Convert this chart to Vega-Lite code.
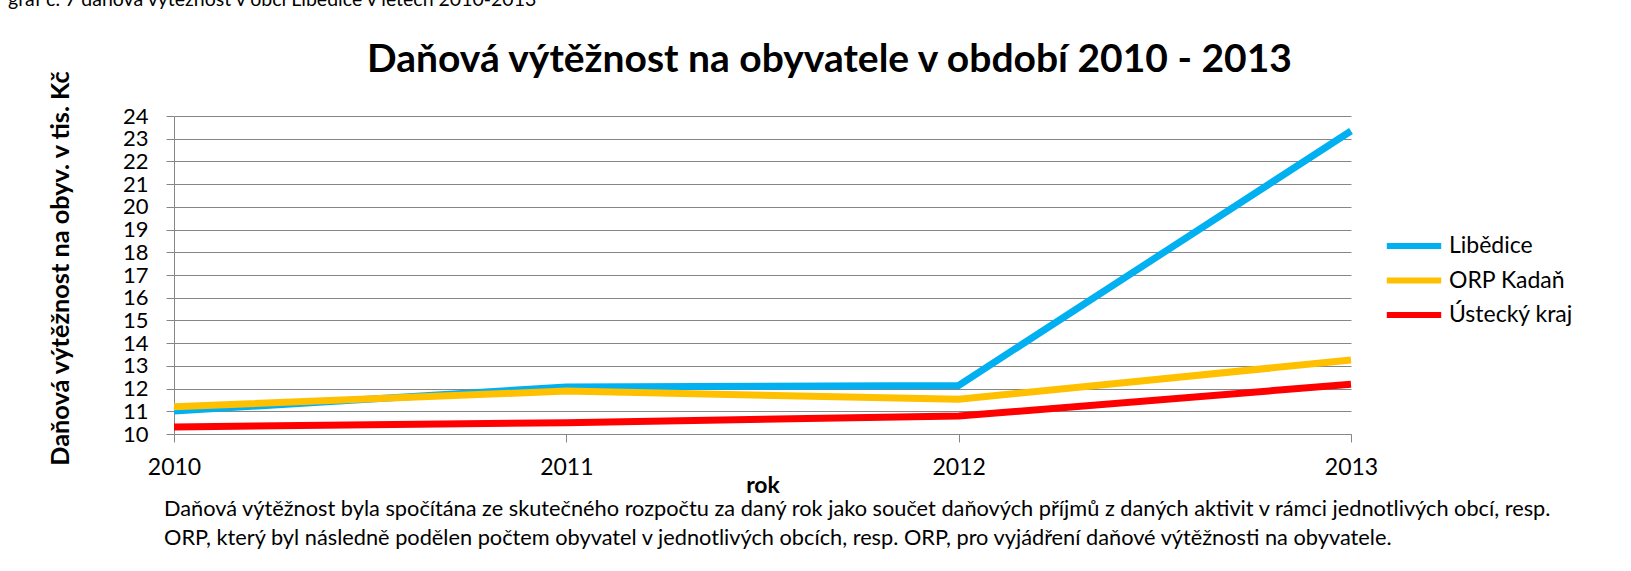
{
  "$schema": "https://vega.github.io/schema/vega-lite/v6.json",
  "padding": {"left": 8, "top": -10, "right": 0, "bottom": 0},
  "background": "white",
  "config": {"view": {"stroke": null}, "font": "Lato", "concat": {"spacing": 0}},
  "title": {"text": "graf č. 7 daňová výtěžnost v obci Libědice v letech 2010-2013", "anchor": "start", "frame": "group", "fontSize": 19.5, "fontWeight": "normal", "font": "Lato", "color": "#000000", "offset": 30, "dx": -166},
  "vconcat": [
    {
      "title": {"text": ["Daňová výtěžnost byla spočítána ze skutečného rozpočtu za daný rok jako součet daňových příjmů z daných aktivit v rámci jednotlivých obcí, resp.", "ORP, který byl následně podělen počtem obyvatel v jednotlivých obcích, resp. ORP, pro vyjádření daňové výtěžnosti na obyvatele."], "orient": "bottom", "anchor": "start", "frame": "group", "fontSize": 21.75, "fontWeight": "normal", "font": "Lato", "color": "#000000", "lineHeight": 29, "offset": 2, "dx": -10},
      "vconcat": [
        {
          "width": 1177,
          "height": 318,
          "title": {"text": "Daňová výtěžnost na obyvatele v období 2010 - 2013", "anchor": "middle", "frame": "group", "fontSize": 39, "fontWeight": "bold", "font": "Lato", "color": "#000000", "offset": -10, "dx": 67},
          "data": {"values": [
            {"rok": "2010", "oblast": "Libědice", "hodnota": 11.01},
            {"rok": "2011", "oblast": "Libědice", "hodnota": 12.07},
            {"rok": "2012", "oblast": "Libědice", "hodnota": 12.14},
            {"rok": "2013", "oblast": "Libědice", "hodnota": 23.34},
            {"rok": "2010", "oblast": "ORP Kadaň", "hodnota": 11.2},
            {"rok": "2011", "oblast": "ORP Kadaň", "hodnota": 11.89},
            {"rok": "2012", "oblast": "ORP Kadaň", "hodnota": 11.53},
            {"rok": "2013", "oblast": "ORP Kadaň", "hodnota": 13.26},
            {"rok": "2010", "oblast": "Ústecký kraj", "hodnota": 10.31},
            {"rok": "2011", "oblast": "Ústecký kraj", "hodnota": 10.5},
            {"rok": "2012", "oblast": "Ústecký kraj", "hodnota": 10.79},
            {"rok": "2013", "oblast": "Ústecký kraj", "hodnota": 12.19}
          ]},
          "mark": {"type": "line", "strokeWidth": 7},
          "encoding": {
            "x": {"field": "rok", "type": "ordinal", "scale": {"type": "point", "padding": 0},
              "axis": {"title": "rok", "labelAngle": 0, "labelFontSize": 23, "labelFont": "Lato", "labelColor": "#000000", "tickSize": 8, "labelPadding": 14, "tickColor": "#868686", "domainColor": "#868686", "grid": false, "titleFontSize": 23, "titleFont": "Lato", "titleFontWeight": "bold", "titleColor": "#000000", "titlePadding": -5}},
            "y": {"field": "hodnota", "type": "quantitative", "scale": {"domain": [10, 24], "nice": false, "zero": false},
              "axis": {"title": "Daňová výtěžnost na obyv. v tis. Kč", "titleY": 152, "values": [10, 11, 12, 13, 14, 15, 16, 17, 18, 19, 20, 21, 22, 23, 24], "labelFontSize": 22, "labelFont": "Lato", "labelColor": "#000000", "labelOverlap": false, "labelFlush": false, "tickSize": 8, "labelPadding": 18, "tickColor": "#868686", "domainColor": "#868686", "grid": true, "gridColor": "#868686", "gridOpacity": 1, "titleFontSize": 25.3, "titleFont": "Lato", "titleFontWeight": "bold", "titleColor": "#000000", "titlePadding": 49}},
            "color": {"field": "oblast", "type": "nominal", "sort": ["Libědice", "ORP Kadaň", "Ústecký kraj"],
              "scale": {"domain": ["Libědice", "ORP Kadaň", "Ústecký kraj"], "range": ["#00B0F0", "#FFC000", "#FF0000"]},
              "legend": {"title": null, "orient": "none", "legendX": 1220, "legendY": 110, "symbolType": "M-1.6,0H1.6", "symbolSize": 1156, "symbolStrokeWidth": 6, "labelFontSize": 23, "labelFont": "Lato", "labelColor": "#000000", "labelOffset": 15, "rowPadding": 2.5, "padding": 0}}
          }
        }
      ]
    }
  ]
}
